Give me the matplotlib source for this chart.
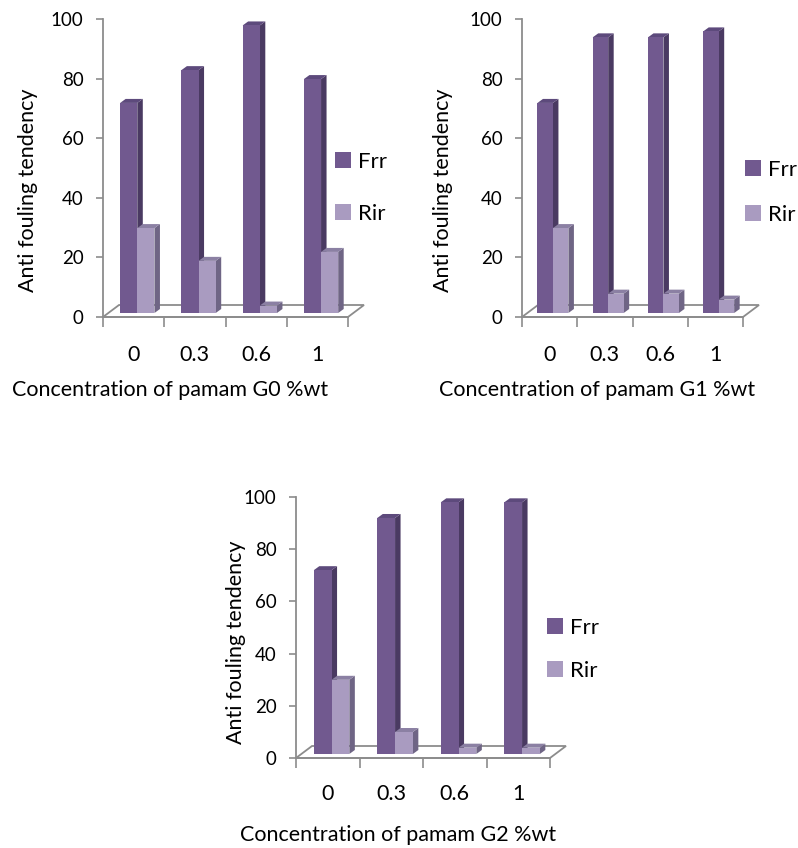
import matplotlib
matplotlib.use("Agg")
import matplotlib.pyplot as plt
from matplotlib.patches import Polygon, Patch

plt.rcParams['font.family'] = ['Lato', 'DejaVu Sans']

categories = ["0", "0.3", "0.6", "1"]
frr_g0 = [71, 82, 97, 79]
rir_g0 = [29, 18, 3, 21]
frr_g1 = [71, 93, 93, 95]
rir_g1 = [29, 7, 7, 5]
frr_g2 = [71, 91, 97, 97]
rir_g2 = [29, 9, 3, 3]
yticks = [0, 20, 40, 60, 80, 100]
xlabels = ["Concentration of pamam G0 %wt",
           "Concentration of pamam G1 %wt",
           "Concentration of pamam G2 %wt"]
ylabel = "Anti fouling tendency"
series_names = ["Frr", "Rir"]

W, H = 798, 848
fig = plt.figure(figsize=(W / 100, H / 100), dpi=100)

FRR = dict(front="#71598f", side="#4a3a62", top="#5d4a7c")
RIR = dict(front="#a99bc0", side="#6f6585", top="#8b80a3")
GRAY = "#8c8c8c"


def px_rect(left, top_y0, right, bottom_y0):
    return [left / W, (H - bottom_y0) / H, (right - left) / W, (bottom_y0 - top_y0) / H]


def draw_chart(rect, frr, rir, xlabel, xlab_pos, ylab_pos, leg_pos, tick_pad, leg_space):
    ax = fig.add_axes(rect)
    n = len(categories)
    ax.set_xlim(0, n)
    ax.set_ylim(0, 100)
    ax_w_px = rect[2] * W
    ax_h_px = rect[3] * H
    ux = ax_w_px / n
    uy = ax_h_px / 100.0

    fdx, fdy = 16 / ux, 12 / uy
    floor = Polygon([(0, 0), (n, 0), (n + fdx, fdy), (fdx, fdy)], closed=True,
                    facecolor="white", edgecolor=GRAY, lw=1.3, clip_on=False, zorder=1)
    ax.add_patch(floor)

    bdx, bdy = 5.5 / ux, 4 / uy
    base = 4 / uy
    lift = 2.5 / uy
    w = 0.28
    for vals, col, off in ((frr, FRR, 0.28), (rir, RIR, 0.56)):
        xs = [i + off for i in range(n)]
        heights = [v + lift - base for v in vals]
        bars = ax.bar(xs, heights, width=w, bottom=base, align="edge",
                      color=col["front"], edgecolor="none", zorder=3 if off > 0.3 else 2,
                      clip_on=False)
        for b in bars:
            x0 = b.get_x()
            x1 = x0 + b.get_width()
            y0 = b.get_y()
            y1 = y0 + b.get_height()
            z = b.get_zorder()
            ax.add_patch(Polygon([(x1, y0), (x1, y1), (x1 + bdx, y1 + bdy), (x1 + bdx, y0 + bdy)],
                                 closed=True, facecolor=col["side"], edgecolor="none",
                                 zorder=z - 0.1, clip_on=False))
            ax.add_patch(Polygon([(x0, y1), (x1, y1), (x1 + bdx, y1 + bdy), (x0 + bdx, y1 + bdy)],
                                 closed=True, facecolor=col["top"], edgecolor="none",
                                 zorder=z - 0.1, clip_on=False))

    for s in ("top", "right"):
        ax.spines[s].set_visible(False)
    for s in ("left", "bottom"):
        ax.spines[s].set_color(GRAY)
        ax.spines[s].set_linewidth(1.3)
        ax.spines[s].set_zorder(1.5)
    ax.set_yticks(yticks)
    ax.tick_params(axis="y", direction="out", length=5, width=1.2, color=GRAY,
                   labelsize=13.5, pad=9)
    ax.set_xticks(range(n + 1))
    ax.set_xticklabels([""] * (n + 1))
    ax.tick_params(axis="x", which="major", direction="out", length=7, width=1.2, color=GRAY)
    ax.set_xticks([i + 0.5 for i in range(n)], minor=True)
    ax.set_xticklabels(categories, minor=True)
    ax.tick_params(axis="x", which="minor", length=0, labelsize=15.5, pad=tick_pad)
    ax.patch.set_visible(False)

    fig.text(xlab_pos[0] / W, 1 - xlab_pos[1] / H, xlabel, ha="center", va="center",
             fontsize=15.5)
    fig.text(ylab_pos[0] / W, 1 - ylab_pos[1] / H, ylabel, ha="center", va="center",
             rotation=90, fontsize=15.5)
    handles = [Patch(facecolor=FRR["front"], edgecolor="none"),
               Patch(facecolor=RIR["front"], edgecolor="none")]
    fig.legend(handles, series_names, loc="upper left", frameon=False,
               bbox_to_anchor=(leg_pos[0] / W, 1 - leg_pos[1] / H),
               fontsize=16, handlelength=0.7, handleheight=0.7, handletextpad=0.35,
               labelspacing=leg_space, borderpad=0, borderaxespad=0)
    return ax


draw_chart(px_rect(103, 19, 348, 317), frr_g0, rir_g0, xlabels[0],
           (170, 390), (28, 190), (335, 152), 20, 1.42)
draw_chart(px_rect(522, 19, 743, 317), frr_g1, rir_g1, xlabels[1],
           (597, 390), (443, 190), (745, 160), 20, 1.12)
draw_chart(px_rect(296, 497, 550, 758), frr_g2, rir_g2, xlabels[2],
           (398, 835), (236, 642), (547, 618), 19, 1.03)

fig.savefig("out.png", dpi=100)
